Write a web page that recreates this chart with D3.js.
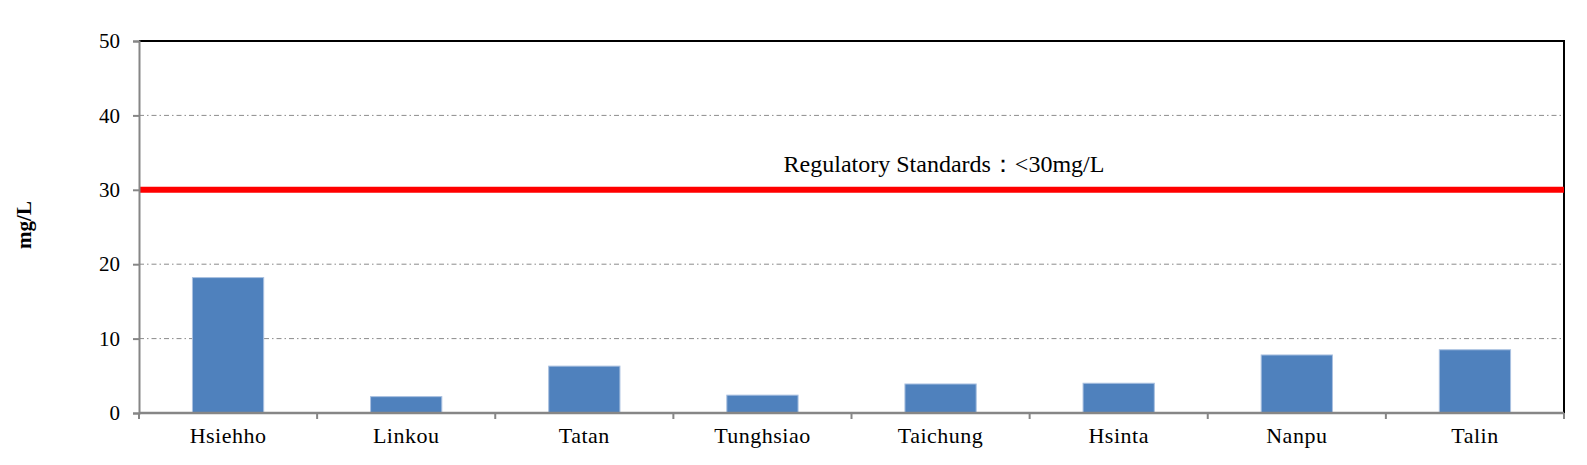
<!DOCTYPE html>
<html>
<head>
<meta charset="utf-8">
<script src="https://cdn.jsdelivr.net/npm/d3@7"></script>
<style>
  html, body { margin: 0; padding: 0; background: #fff; overflow: hidden; }
  svg { display: block; }
  svg text { font-family: "Liberation Serif", "Times New Roman", serif; fill: #000; }
</style>
</head>
<body>
<div id="chart"></div>
<script>
var sites = ["Hsiehho", "Linkou", "Tatan", "Tunghsiao", "Taichung", "Hsinta", "Nanpu", "Talin"];
var values = [18.2, 2.2, 6.3, 2.4, 3.9, 4.0, 7.8, 8.5];
var yTicks = [0, 10, 20, 30, 40, 50];
var gridValues = [10, 20, 40];
var standard = 30;
var standardLabel = "Regulatory Standards\uFF1A<30mg/L";
var yTitle = "mg/L";

var width = 1587, height = 465;
var plotL = 139, plotR = 1564, plotT = 41, plotB = 413;

var svg = d3.select("#chart")
    .append("svg")
    .attr("width", width)
    .attr("height", height);

var x = d3.scaleBand().domain(sites).range([plotL, plotR]).padding(0);
var y = d3.scaleLinear().domain([0, 50]).range([plotB, plotT]);

// dash-dot grid
svg.selectAll(".grid")
    .data(gridValues)
    .enter()
    .append("line")
    .attr("x1", plotL)
    .attr("x2", plotR)
    .attr("y1", function(d){ return y(d); })
    .attr("y2", function(d){ return y(d); })
    .attr("stroke", "#8c8c8c")
    .attr("stroke-width", 1)
    .attr("stroke-dasharray", "5,3,1.5,3");

// black frame top and right
svg.append("path")
    .attr("d", "M" + plotL + "," + y(50) + "H" + plotR + "V" + plotB)
    .attr("fill", "none")
    .attr("stroke", "#000")
    .attr("stroke-width", 2);

// bars
var barW = x.bandwidth() * 0.4;
svg.selectAll(".bar")
    .data(values)
    .enter()
    .append("rect")
    .attr("x", function(d, i){ return x(sites[i]) + (x.bandwidth() - barW) / 2; })
    .attr("y", function(d){ return y(d); })
    .attr("width", barW)
    .attr("height", function(d){ return y(0) - y(d); })
    .attr("fill", "#4f81bd")
    .attr("stroke", "#a9c0e0")
    .attr("stroke-width", 1);

// standard line
svg.append("line")
    .attr("x1", plotL)
    .attr("x2", plotR)
    .attr("y1", y(standard))
    .attr("y2", y(standard))
    .attr("stroke", "#ff0000")
    .attr("stroke-width", 6);

svg.append("text")
    .attr("x", 944)
    .attr("y", y(standard) - 18)
    .attr("text-anchor", "middle")
    .style("font-size", "24px")
    .text(standardLabel);

// y axis
var yAxis = d3.axisLeft(y).tickValues(yTicks).tickSize(6).tickPadding(13);
var gy = svg.append("g").attr("transform", "translate(" + plotL + ",0)").call(yAxis);
gy.select(".domain").attr("stroke", "#868686").attr("stroke-width", 2);
gy.selectAll(".tick line").attr("stroke", "#868686").attr("stroke-width", 2);
gy.selectAll(".tick text")
    .style("font-family", "'Liberation Serif', serif")
    .style("font-size", "21px")
    .attr("fill", "#000");

// x axis: ticks at band edges
var edges = sites.map(function(s){ return x(s); }).concat([plotR]);
svg.selectAll(".xtick")
    .data(edges)
    .enter()
    .append("line")
    .attr("x1", function(d){ return d; })
    .attr("x2", function(d){ return d; })
    .attr("y1", plotB)
    .attr("y2", plotB + 6)
    .attr("stroke", "#868686")
    .attr("stroke-width", 2);

svg.append("line")
    .attr("x1", plotL)
    .attr("x2", plotR)
    .attr("y1", plotB)
    .attr("y2", plotB)
    .attr("stroke", "#868686")
    .attr("stroke-width", 2.5);

svg.selectAll(".xlabel")
    .data(sites)
    .enter()
    .append("text")
    .attr("x", function(d){ return x(d) + x.bandwidth() / 2; })
    .attr("y", 443)
    .attr("text-anchor", "middle")
    .style("font-size", "22px")
    .style("letter-spacing", "0.5px")
    .text(function(d){ return d; });

// y title
svg.append("text")
    .attr("transform", "translate(31,225) rotate(-90)")
    .attr("text-anchor", "middle")
    .style("font-size", "21px")
    .style("font-weight", "bold")
    .text(yTitle);
</script>
</body>
</html>
